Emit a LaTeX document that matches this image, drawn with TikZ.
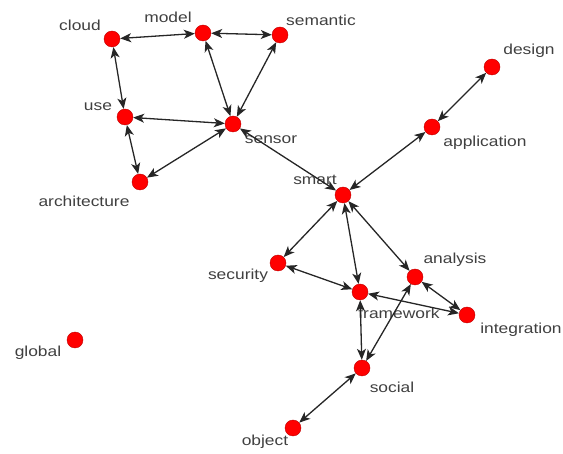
\documentclass[tikz,border=0pt]{standalone}
\usepackage{fontspec}
\setmainfont{Liberation Sans}[FakeStretch=1.2]
\usetikzlibrary{arrows.meta}
\tikzset{
	vert/.style={circle,fill=red,draw=red!75!black,line width=0.4pt,inner sep=0pt,minimum size=16pt},
	word/.style={text=black!75,inner sep=0pt,font=\fontsize{14.5}{16}\selectfont},
	link/.style={{Stealth[length=11pt,width=9pt,inset=3pt]}-{Stealth[length=11pt,width=9pt,inset=3pt]},line width=1.3pt,black!85}
}

\begin{document}
\begin{tikzpicture}[x=1pt,y=-1pt]
	\useasboundingbox (0,0) rectangle (563,454);
	% labels
	\node[word] (lcloud) at (80,25) {cloud};
	\node[word] (lmodel) at (168,17) {model};
	\node[word] (lsemantic) at (321,20) {semantic};
	\node[word] (ldesign) at (529,51) {design};
	\node[word] (luse) at (98,107) {use};
	\node[word] (lsensor) at (271,140) {sensor};
	\node[word] (lapplication) at (485,143) {application};
	\node[word] (larchitecture) at (84,201) {architecture};
	\node[word] (lsmart) at (315,180) {smart};
	\node[word] (lsecurity) at (238,276) {security};
	\node[word] (lanalysis) at (455,260) {analysis};
	\node[word] (lframework) at (399,313) {framework};
	\node[word] (lintegration) at (521,330) {integration};
	\node[word] (lglobal) at (38,353) {global};
	\node[word] (lsocial) at (392,387) {social};
	\node[word] (lobject) at (265,442) {object};
	% dots
	\node[vert] (cloud) at (112,39) {};
	\node[vert] (model) at (203,33) {};
	\node[vert] (semantic) at (280,35) {};
	\node[vert] (design) at (492,67) {};
	\node[vert] (use) at (125,117) {};
	\node[vert] (sensor) at (233,124) {};
	\node[vert] (application) at (432,127) {};
	\node[vert] (architecture) at (140,182) {};
	\node[vert] (smart) at (343,195) {};
	\node[vert] (security) at (278,263) {};
	\node[vert] (analysis) at (415,277) {};
	\node[vert] (framework) at (360,292) {};
	\node[vert] (integration) at (467,315) {};
	\node[vert] (global) at (75,340) {};
	\node[vert] (social) at (362,368) {};
	\node[vert] (object) at (293,428) {};
	% edges
	\draw[link] (cloud)--(model);
	\draw[link] (model)--(semantic);
	\draw[link] (cloud)--(use);
	\draw[link] (model)--(sensor);
	\draw[link] (semantic)--(sensor);
	\draw[link] (use)--(sensor);
	\draw[link] (use)--(architecture);
	\draw[link] (sensor)--(architecture);
	\draw[link] (sensor)--(smart);
	\draw[link] (smart)--(application);
	\draw[link] (application)--(design);
	\draw[link] (smart)--(security);
	\draw[link] (smart)--(framework);
	\draw[link] (smart)--(analysis);
	\draw[link] (security)--(framework);
	\draw[link] (framework)--(integration);
	\draw[link] (analysis)--(integration);
	\draw[link] (analysis)--(social);
	\draw[link] (framework)--(social);
	\draw[link] (social)--(object);
\end{tikzpicture}
\end{document}
